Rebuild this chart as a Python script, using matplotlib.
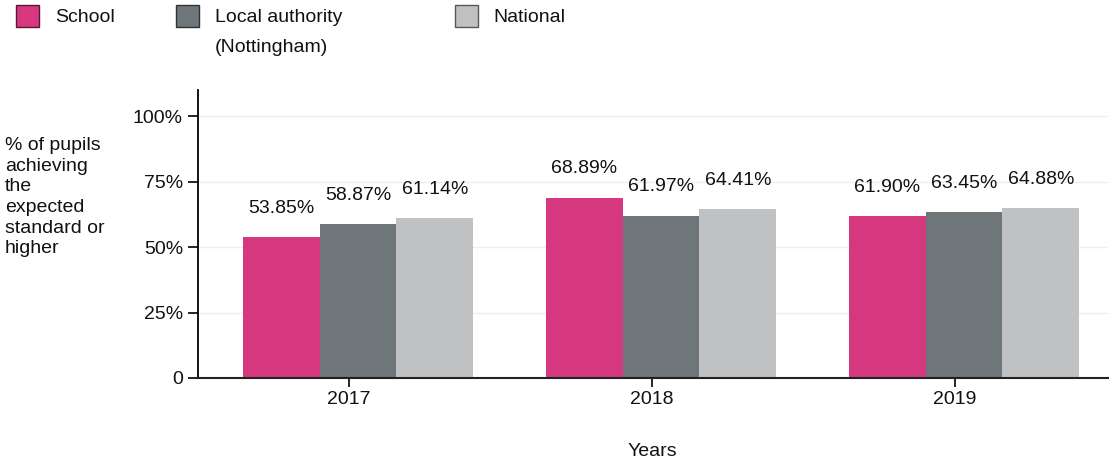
import matplotlib
matplotlib.use("Agg")
import matplotlib.pyplot as plt
from matplotlib.patches import Rectangle
import numpy as np

plt.rcParams['font.family'] = ['Liberation Sans', 'DejaVu Sans']

years = ["2017", "2018", "2019"]
school = [53.85, 68.89, 61.90]
local_authority = [58.87, 61.97, 63.45]
national = [61.14, 64.41, 64.88]
series_names = ["School", "Local authority\n(Nottingham)", "National"]
colors = ["#D6387F", "#6F7679", "#C0C1C3"]
edge_colors = ["#5A1835", "#303436", "#55575A"]
yticks = [0, 25, 50, 75, 100]
ytick_labels = ["0", "25%", "50%", "75%", "100%"]

fig = plt.figure(figsize=(11.13, 4.65), dpi=100)
ax = fig.add_axes([198/1113, 1 - 378/465, (1108-198)/1113, (378-90)/465])

x = np.arange(len(years))
w = 0.2535
fs = 14
for k, vals in enumerate([school, local_authority, national]):
    xs = x + (k - 1) * w
    ax.bar(xs, vals, width=w, color=colors[k], zorder=2)
    for xi, v in zip(xs, vals):
        ax.text(xi, v + 11, f"{v:.2f}%", ha="center", va="center", fontsize=fs, color="#111111")

ax.set_xlim(-0.528, 2.475)
ax.set_ylim(0, 110)
ax.set_yticks(yticks)
ax.set_yticklabels(ytick_labels, fontsize=fs, color="#111111")
ax.set_xticks(x - 0.03)
ax.set_xticklabels(years, fontsize=fs, color="#111111")
ax.tick_params(axis="y", length=7.2, width=1.2, pad=3.6)
ax.tick_params(axis="x", length=6.5, width=1.2, pad=3)
for yv in yticks[1:]:
    ax.axhline(yv, color="#EEEEEE", linewidth=1, zorder=1)
ax.spines["top"].set_visible(False)
ax.spines["right"].set_visible(False)
ax.spines["left"].set_linewidth(1.3)
ax.spines["bottom"].set_linewidth(1.5)
ax.spines["bottom"].set_color("#222222")
ax.spines["bottom"].set_zorder(3)

fig.text(5/1113, 1 - 137/465, "% of pupils\nachieving\nthe\nexpected\nstandard or\nhigher",
         ha="left", va="top", fontsize=fs, linespacing=1.28, color="#111111")
fig.text(652/1113, 1 - 451/465, "Years", ha="center", va="center", fontsize=fs, color="#111111")

# legend
sq_x = [16, 176, 455]
txt_x = [55, 215, 493]
for k in range(3):
    fig.patches.append(Rectangle((sq_x[k]/1113, 1 - 27/465), 23/1113, 22/465,
                                 transform=fig.transFigure, facecolor=colors[k],
                                 edgecolor=edge_colors[k], linewidth=1))
    fig.text(txt_x[k]/1113, 1 - 9/465, series_names[k], ha="left", va="top",
             fontsize=fs, linespacing=2.0, color="#111111")

fig.savefig("out.png", dpi=100)
